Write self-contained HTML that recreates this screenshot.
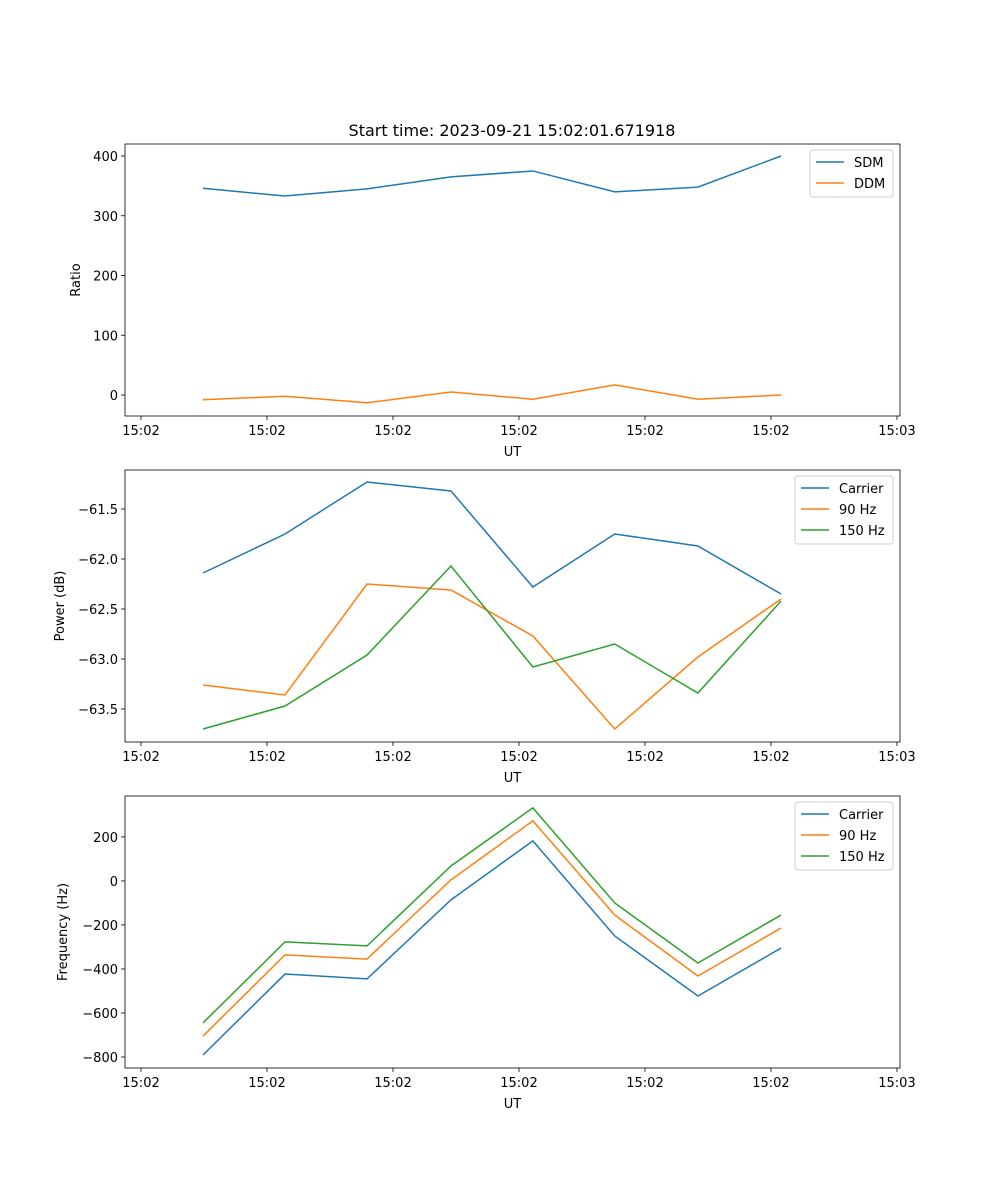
<!DOCTYPE html>
<html><head><meta charset="utf-8"><style>
body{margin:0;background:#fff}
svg{display:block;font-family:"DejaVu Sans","Liberation Sans",sans-serif}
</style></head><body>
<svg id="fig" width="1000" height="1200" xmlns="http://www.w3.org/2000/svg">
<rect width="1000" height="1200" fill="#fff"/>
<text x="512" y="136" font-size="16" text-anchor="middle" fill="#000">Start time: 2023-09-21 15:02:01.671918</text>
</svg>
<script>
// x values: seconds after 15:02:00
const times = [4.92, 11.43, 17.94, 24.6, 31.1, 37.6, 44.2, 50.8];
const xTickSecs = [0, 10, 20, 30, 40, 50, 60];
const xTickLabels = ["15:02","15:02","15:02","15:02","15:02","15:02","15:03"];
const sdm = [346, 333, 345, 365, 375, 340, 348, 400];
const ddm = [-8, -2, -13, 5, -7, 17, -7, 0];
const powCarrier = [-62.14, -61.75, -61.23, -61.32, -62.28, -61.75, -61.87, -62.35];
const pow90 = [-63.26, -63.36, -62.25, -62.31, -62.77, -63.70, -62.98, -62.40];
const pow150 = [-63.70, -63.47, -62.96, -62.07, -63.08, -62.85, -63.34, -62.42];
const freqCarrier = [-791, -423, -445, -86, 182, -250, -523, -305];
const freq90 = [-705, -336, -355, 5, 273, -155, -432, -214];
const freq150 = [-645, -277, -295, 68, 332, -100, -373, -155];
const ratioTicks = [0, 100, 200, 300, 400];
const powTicks = [-63.5, -63.0, -62.5, -62.0, -61.5];
const freqTicks = [-800, -600, -400, -200, 0, 200];

const NS = "http://www.w3.org/2000/svg";
const svg = document.getElementById("fig");
const C = {blue:"#1f77b4", orange:"#ff7f0e", green:"#2ca02c"};
function el(tag, attrs, parent){const e=document.createElementNS(NS,tag);for(const k in attrs)e.setAttribute(k,attrs[k]);(parent||svg).appendChild(e);return e;}
const L=125,R=900,XMIN=-1.27,XMAX=60.24;
const xs = v => L + (v - XMIN) / (XMAX - XMIN) * (R - L);

function panel(name, top, bottom, ymin, ymax, yTicks, fmt, ylabel, series, legend){
  const g = el("g", {});
  
  
  const ys = v => bottom - (v - ymin) / (ymax - ymin) * (bottom - top);
  xTickSecs.forEach((s,i)=>{
    const x = xs(s);
    el("line",{x1:x,x2:x,y1:bottom,y2:bottom+4,stroke:"#000","stroke-width":0.8},g);
    const t = el("text",{x:x,y:bottom+19,"font-size":13,"text-anchor":"middle"},g);
    t.textContent = xTickLabels[i];
    
    
  });
  yTicks.forEach(v=>{
    const y = ys(v);
    el("line",{x1:L-4,x2:L,y1:y,y2:y,stroke:"#000","stroke-width":0.8},g);
    const t = el("text",{x:L-7,y:y+5,"font-size":13,"text-anchor":"end"},g);
    t.textContent = fmt(v);
    
    
  });
  const xl = el("text",{x:(L+R)/2,y:bottom+40,"font-size":13,"text-anchor":"middle"},g);
  xl.textContent = "UT";
  
  
  const cy = (top+bottom)/2;
  const yl = el("text",{x:0,y:0,"font-size":13,"text-anchor":"middle",transform:`translate(${legend.ylx},${cy}) rotate(-90)`},g);
  yl.textContent = ylabel;
  
  
  series.forEach(s=>{
    const p = el("polyline",{points:times.map((t,i)=>xs(t)+","+ys(s.data[i])).join(" "),fill:"none",stroke:s.color,"stroke-width":1.5},g);
    
    
  });
  el("rect",{x:L,y:top,width:R-L,height:bottom-top,fill:"none",stroke:"#000","stroke-width":0.8},g);
  const lg = el("g",{},g);
  
  
  el("rect",{x:legend.x,y:top+6,width:legend.w,height:series.length*21+5,rx:3,fill:"#fff","fill-opacity":0.8,stroke:"#ccc"},lg);
  series.forEach((s,i)=>{
    const y = top+18+i*21;
    el("line",{x1:legend.x+6,x2:legend.x+34,y1:y,y2:y,stroke:s.color,"stroke-width":1.5},lg);
    const t = el("text",{x:legend.x+44,y:y+5,"font-size":13},lg);
    t.textContent = s.label;
    
    
  });
}
panel("ratio-panel",144,416,-35.1,420.1,ratioTicks,v=>String(v),"Ratio",
  [{label:"SDM",data:sdm,color:C.blue},{label:"DDM",data:ddm,color:C.orange}],{x:810,w:83,ylx:80});
panel("power-panel",470,742,-63.83,-61.11,powTicks,v=>v.toFixed(1).replace("-","\u2212"),"Power (dB)",
  [{label:"Carrier",data:powCarrier,color:C.blue},{label:"90 Hz",data:pow90,color:C.orange},{label:"150 Hz",data:pow150,color:C.green}],{x:795,w:98,ylx:64});
panel("frequency-panel",796,1068,-850,386,freqTicks,v=>String(v).replace("-","\u2212"),"Frequency (Hz)",
  [{label:"Carrier",data:freqCarrier,color:C.blue},{label:"90 Hz",data:freq90,color:C.orange},{label:"150 Hz",data:freq150,color:C.green}],{x:795,w:98,ylx:67});
</script>
</body></html>
